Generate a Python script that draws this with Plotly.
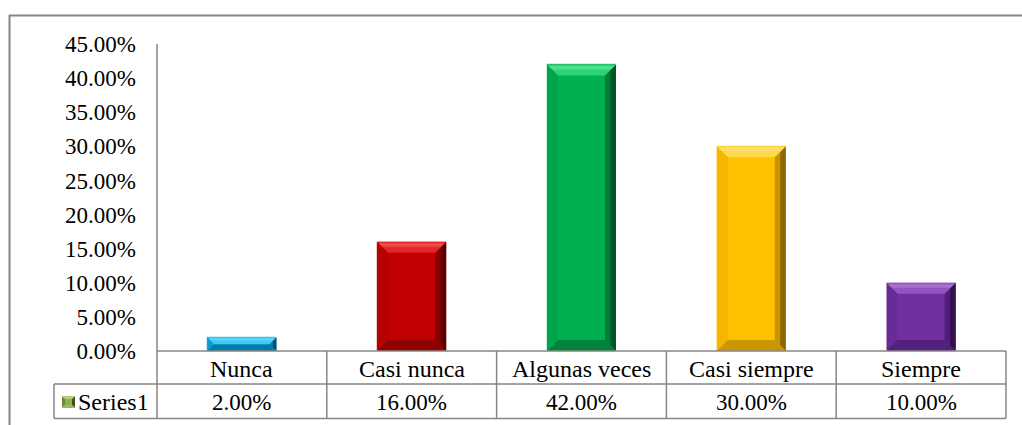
import plotly.graph_objects as go

# Survey response frequencies
categories = ["Nunca", "Casi nunca", "Algunas veces", "Casi siempre", "Siempre"]
values = [0.02, 0.16, 0.42, 0.30, 0.10]
series_name = "Series1"
y_ticks = [0.00, 0.05, 0.10, 0.15, 0.20, 0.25, 0.30, 0.35, 0.40, 0.45]

# Bar palette: face, top bevel, left bevel, right bevel, bottom bevel
face = ["#03A9E3", "#C00000", "#00B050", "#FFC000", "#7030A0"]
top_c = ["#3CCBF7", "#E52525", "#2BD576", "#FFD84E", "#9353C4"]
left_c = ["#0A9CD0", "#B30000", "#00A449", "#F4B600", "#672B96"]
right_c = ["#00506F", "#5A0000", "#005526", "#8F6700", "#341050"]
right_mid = ["#027FAA", "#8A0000", "#007E3A", "#C79500", "#521F78"]
bottom_c = ["#0679A6", "#8F0000", "#00833B", "#C99600", "#52217A"]

W, H = 1022, 425
ML, MR, MT, MB = 157, 16, 44, 74
PW, PH = W - ML - MR, H - MT - MB
YMAX = 0.45
BAR_W = 0.406
FONT = dict(family="Liberation Serif", size=23, color="#000000")
FONT_TXT = dict(family="Liberation Serif", size=24, color="#000000")
LINE = "#868686"

n = len(categories)
px_x = PW / n          # pixels per category unit
px_y = PH / YMAX       # pixels per value unit

fig = go.Figure()
fig.add_trace(go.Bar(
    x=list(range(n)), y=values, width=BAR_W,
    marker=dict(color=face, line=dict(width=0.6, color="rgba(255,255,255,0.6)")),
    showlegend=False, hoverinfo="skip",
))

shapes = []


def poly(pts, color, xref="x", yref="y"):
    path = "M " + " L ".join(f"{px},{py}" for px, py in pts) + " Z"
    return dict(type="path", path=path, xref=xref, yref=yref,
                fillcolor=color, line=dict(width=0), layer="above")


# Bevelled edges for each bar
for i, v in enumerate(values):
    x0, x1 = i - BAR_W / 2, i + BAR_W / 2
    y0, y1 = 0.0, v
    b = min(11.0, v * px_y / 2)
    dx, dy = b / px_x, b / px_y
    shapes.append(poly([(x0, y0), (x0, y1), (x0 + dx, y1 - dy), (x0 + dx, y0 + dy)], left_c[i]))
    # right edge: mid tone inside, dark tone along the outer half
    shapes.append(poly([(x1, y0), (x1, y1), (x1 - dx, y1 - dy), (x1 - dx, y0 + dy)], right_mid[i]))
    shapes.append(poly([(x1, y0), (x1, y1), (x1 - dx / 2, y1 - dy / 2), (x1 - dx / 2, y0 + dy / 2)],
                       right_c[i]))
    shapes.append(poly([(x0, y0), (x1, y0), (x1 - dx, y0 + dy), (x0 + dx, y0 + dy)], bottom_c[i]))
    shapes.append(poly([(x0, y1), (x1, y1), (x1 - dx, y1 - dy), (x0 + dx, y1 - dy)], top_c[i]))
    # brighter strip along the upper part of the top bevel
    hx, hy = dx * 0.45, dy * 0.45
    shapes.append(poly([(x0 + hx * 0.2, y1 - hy * 0.3), (x1 - hx * 0.2, y1 - hy * 0.3),
                        (x1 - hx, y1 - hy), (x0 + hx, y1 - hy)], "rgba(255,255,255,0.18)"))


def px2paper_x(p):
    return (p - ML) / PW


def px2paper_y(p):
    return (H - MB - p) / PH


def hline(y_px, x0_px, x1_px, w=1.5):
    shapes.append(dict(type="line", xref="paper", yref="paper",
                       x0=px2paper_x(x0_px), x1=px2paper_x(x1_px),
                       y0=px2paper_y(y_px), y1=px2paper_y(y_px),
                       line=dict(color=LINE, width=w), layer="above"))


def vline(x_px, y0_px, y1_px, w=1.5):
    shapes.append(dict(type="line", xref="paper", yref="paper",
                       x0=px2paper_x(x_px), x1=px2paper_x(x_px),
                       y0=px2paper_y(y0_px), y1=px2paper_y(y1_px),
                       line=dict(color=LINE, width=w), layer="above"))


# Chart border (left and top)
hline(15.5, 9, W + 2, 2)
vline(9.5, 15, H + 2, 2)

# Value axis line and data table grid
base = H - MB
row1 = base + 33
row2 = base + 67.5
table_right = ML + PW
legend_left = 54
vline(ML, MT, row2)
hline(base, ML, table_right)
hline(row1, legend_left, table_right)
hline(row2, legend_left, table_right)
vline(legend_left, row1, row2)
for k in range(1, n + 1):
    vline(ML + k * px_x, base, row2)

annotations = []
for i, (c, v) in enumerate(zip(categories, values)):
    annotations.append(dict(x=i, xref="x", y=px2paper_y((base + row1) / 2 + 1), yref="paper",
                            text=c, showarrow=False, font=FONT_TXT, xanchor="center", yanchor="middle"))
    annotations.append(dict(x=i, xref="x", y=px2paper_y((row1 + row2) / 2 + 1), yref="paper",
                            text=f"{v * 100:.2f}%", showarrow=False, font=FONT,
                            xanchor="center", yanchor="middle"))

# Legend key and series name in the data table
kx0, kx1 = 62, 75
ky0, ky1 = 396, 408
kc = ((kx0 + kx1) / 2, (ky0 + ky1) / 2)
key_pts = {
    "top": [(kx0, ky0), (kx1, ky0), kc],
    "left": [(kx0, ky0), (kx0, ky1), kc],
    "right": [(kx1, ky0), (kx1, ky1), kc],
    "bottom": [(kx0, ky1), (kx1, ky1), kc],
}
key_cols = {"top": "#B5CF78", "left": "#6E8A35", "right": "#3F5220", "bottom": "#9BBB59"}
for side in ["left", "right", "bottom", "top"]:
    pts = [(px2paper_x(a), px2paper_y(b)) for a, b in key_pts[side]]
    shapes.append(poly(pts, key_cols[side], xref="paper", yref="paper"))
shapes.append(dict(type="rect", xref="paper", yref="paper",
                   x0=px2paper_x(kx0 + 3), x1=px2paper_x(kx1 - 3),
                   y0=px2paper_y(ky0 + 3), y1=px2paper_y(ky1 - 3),
                   fillcolor="#8FB04E", line=dict(width=0), layer="above"))
annotations.append(dict(x=px2paper_x(76), xref="paper", y=px2paper_y((row1 + row2) / 2 + 1), yref="paper",
                        text=series_name, showarrow=False, font=FONT_TXT,
                        xanchor="left", yanchor="middle"))

fig.update_layout(
    width=W, height=H,
    margin=dict(l=ML, r=MR, t=MT, b=MB, pad=0),
    paper_bgcolor="white", plot_bgcolor="white",
    showlegend=False,
    bargap=0,
    font=FONT,
    shapes=shapes,
    annotations=annotations,
    xaxis=dict(range=[-0.5, n - 0.5], showticklabels=False, showgrid=False,
               zeroline=False, showline=False, ticks="", fixedrange=True),
    yaxis=dict(range=[0, YMAX], tickvals=y_ticks, tickformat=".2%",
               showgrid=False, zeroline=False, showline=False, ticks="",
               tickfont=FONT, ticklabelstandoff=20, fixedrange=True),
)

fig.write_html("out.html")
